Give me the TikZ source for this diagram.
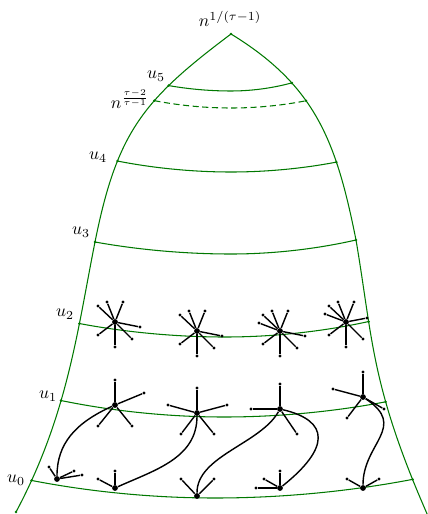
\documentclass[tikz,border=0pt]{standalone}
\usetikzlibrary{calc}
\definecolor{rimgreen}{RGB}{0,120,0}
% a hub with its pendant leaves, given as offsets from the hub
\newcommand\hubstar[2]{%
  \foreach \dx/\dy [count=\k] in {#2} {%
    \node[leaf] (#1-\k) at ($(#1)+(\dx,\dy)$) {};
    \draw[edge] (#1) -- (#1-\k);
  }}
\begin{document}
\begin{tikzpicture}[x=0.02cm,y=-0.02cm,
  rimline/.style={rimgreen,line width=0.6pt},
  edge/.style={black,line width=0.8pt},
  hub/.style={circle,fill=black,inner sep=0pt,minimum size=3.3pt},
  leaf/.style={circle,fill=black,inner sep=0pt,minimum size=1.8pt},
  lab/.style={inner sep=0pt}]
\useasboundingbox (0,0) rectangle (428,514);

\coordinate (top) at (231,34);
\coordinate (l3) at (95,242);
\coordinate (r3) at (356,240);
\coordinate (lend) at (16,512);
\coordinate (rend) at (428,516);

% boundary curves, with the level points taken on them
\draw[rimline] (top) .. controls (143,100) and (117,132) .. (l3)
  coordinate[pos=0.29] (l5) coordinate[pos=0.38] (ln) coordinate[pos=0.7] (l4);
\draw[rimline] (l3) .. controls (77.4,330.2) and (67.7,415.2) .. (lend)
  coordinate[pos=0.31] (l2) coordinate[pos=0.6] (l1) coordinate[pos=0.89] (l0);
\draw[rimline] (top) .. controls (316,86) and (336.4,142) .. (r3)
  coordinate[pos=0.3] (r5) coordinate[pos=0.4] (rn) coordinate[pos=0.7] (r4);
\draw[rimline] (r3) .. controls (373,340) and (370.8,386) .. (rend)
  coordinate[pos=0.31] (r2) coordinate[pos=0.64] (r1) coordinate[pos=0.9] (r0);

% levels
\draw[rimline] (l5) parabola bend (231,91) (r5);
\draw[rimline,dash pattern=on 3.5pt off 2pt] (ln) parabola bend (231,108) (rn);
\draw[rimline] (l4) parabola bend (231,172) (r4);
\draw[rimline] (l3) parabola bend (231,254) (r3);
\draw[rimline] (l2) parabola bend (225,337) (r2);
\draw[rimline] (l1) parabola bend (224,417) (r1);
\draw[rimline] (l0) parabola bend (215,498) (r0);

\foreach \p in {top,lend,l0,l1,l2,l3,l4,ln,l5,r5,rn,r4,r3,r2,r1,r0}
  \fill[rimgreen] (\p) circle (0.8pt);

% labels
\node[lab] (t0) at (16,480) {$u_0$};
\node[lab] (t1) at (48,396) {$u_1$};
\node[lab] (t2) at (65,314) {$u_2$};
\node[lab] (t3) at (81,232) {$u_3$};
\node[lab] (t4) at (98,157) {$u_4$};
\node[lab] (t5) at (156,76) {$u_5$};
\node[lab] (tn) at (130,99) {$n^{\frac{\tau-2}{\tau-1}}$};
\node[lab] (ttop) at (230,19) {$n^{1/(\tau-1)}$};

% hubs
\node[hub] (A) at (115,322) {};
\node[hub] (B) at (197,331) {};
\node[hub] (C) at (280,331) {};
\node[hub] (D) at (346,322) {};
\node[hub] (E) at (115,405) {};
\node[hub] (H) at (197,413) {};
\node[hub] (J) at (280,409) {};
\node[hub] (L) at (363,397) {};
\node[hub] (F) at (57,479) {};
\node[hub] (G) at (115,488) {};
\node[hub] (I) at (197,496) {};
\node[hub] (K) at (280,488) {};
\node[hub] (M) at (363,488) {};

% stars
\hubstar{A}{-17/-16,-8/-20,8/-20,25/5,17/17,0/25,-17/13}
\hubstar{B}{-17/-16,-8/-20,8/-20,25/5,17/17,0/25,-17/13}
\hubstar{C}{-17/-16,-8/-20,8/-20,-21/-8,25/5,17/17,0/25,-17/13}
\hubstar{D}{-17/-16,-8/-20,8/-20,-21/-8,21/-4,17/17,0/25,-17/13}
\hubstar{E}{0/-25,29/-12,17/21,-17/21}
\hubstar{H}{0/-25,-29/-8,30/-8,17/21,-16/21}
\hubstar{J}{0/-25,-29/0,17/25}
\hubstar{L}{0/-25,-30/-8,-16/21,21/12}
\hubstar{F}{-8/-12,17/-8,25/-4}
\hubstar{G}{-17/-9,0/-17}
\hubstar{I}{-16/-17,17/-17}
\hubstar{K}{0/-17,-16/-9,-24/0}
\hubstar{M}{-16/-9,16/-9}

% links between the two lowest levels
\draw[edge] (E) .. controls +(-40,18) and +(0,-35) .. (F);
\draw[edge] (G) .. controls +(40,-18) and +(0,45) .. (H);
\draw[edge] (I) .. controls +(0,-40) and +(-20,35) .. (J);
\draw[edge] (J) .. controls +(50,12) and +(50,-40) .. (K);
\draw[edge] (L) .. controls +(45,30) and +(0,-45) .. (M);
\end{tikzpicture}
\end{document}
